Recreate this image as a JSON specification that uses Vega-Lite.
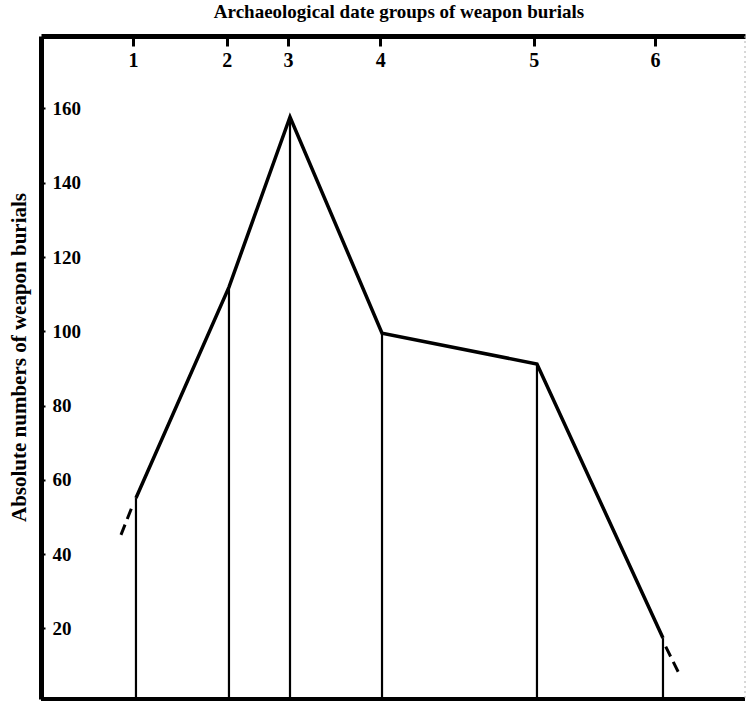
{
  "$schema": "https://vega.github.io/schema/vega-lite/v6.json",
  "width": 704,
  "height": 663,
  "autosize": {"type": "none"},
  "padding": {"left": 41, "top": 36, "right": 2, "bottom": 4},
  "background": "white",
  "config": {"view": {"stroke": null}, "font": "Liberation Serif"},
  "title": {
    "text": "Archaeological date groups of weapon burials",
    "font": "Liberation Serif",
    "fontSize": 19,
    "fontWeight": "bold",
    "color": "black",
    "anchor": "middle",
    "baseline": "middle",
    "dx": 6,
    "offset": 4
  },
  "datasets": {
    "points": [
      {"group": 1, "date": 13.49, "count": 55.1},
      {"group": 2, "date": 26.70, "count": 111.9},
      {"group": 3, "date": 35.37, "count": 157.7},
      {"group": 4, "date": 48.44, "count": 99.5},
      {"group": 5, "date": 70.45, "count": 91.2},
      {"group": 6, "date": 88.35, "count": 17.4}
    ],
    "dashes": [
      {"seg": "before", "date": 12.93, "count": 52.7},
      {"seg": "before", "date": 11.36, "count": 45.2},
      {"seg": "after", "date": 88.74, "count": 15.1},
      {"seg": "after", "date": 90.67, "count": 7.7}
    ],
    "frame": [{"edge": "bottom"}]
  },
  "layer": [
    {
      "data": {"name": "points"},
      "mark": {"type": "rule", "color": "black", "strokeWidth": 2.2},
      "encoding": {
        "x": {
          "field": "date",
          "type": "quantitative",
          "scale": {"domain": [0, 100], "nice": false, "zero": false},
          "axis": {
            "orient": "top",
            "title": null,
            "values": [13.07, 26.4, 35.1, 48.2, 70.0, 87.2],
            "labelExpr": "datum.value < 20 ? '1' : datum.value < 30 ? '2' : datum.value < 40 ? '3' : datum.value < 60 ? '4' : datum.value < 80 ? '5' : '6'",
            "grid": false,
            "domainColor": "black",
            "domainWidth": 5,
            "tickColor": "black",
            "tickWidth": 3,
            "tickSize": -10,
            "labelPadding": -14,
            "labelBaseline": "middle",
            "labelAlign": "center",
            "labelFont": "Liberation Serif",
            "labelFontWeight": "bold",
            "labelFontSize": 20,
            "labelColor": "black",
            "labelFlush": false
          }
        },
        "y": {
          "field": "count",
          "type": "quantitative",
          "scale": {"domain": [1, 179.5], "nice": false, "zero": false},
          "axis": {
            "orient": "left",
            "title": "Absolute numbers of weapon burials",
            "values": [20, 40, 60, 80, 100, 120, 140, 160],
            "grid": false,
            "domainColor": "black",
            "domainWidth": 5,
            "tickColor": "black",
            "tickWidth": 2,
            "tickSize": -4,
            "labelPadding": -7,
            "labelAlign": "left",
            "labelBaseline": "middle",
            "labelFont": "Liberation Serif",
            "labelFontWeight": "bold",
            "labelFontSize": 19,
            "labelColor": "black",
            "titleFont": "Liberation Serif",
            "titleFontWeight": "bold",
            "titleFontSize": 21,
            "titleColor": "black",
            "titleAngle": 270,
            "titleAlign": "center",
            "titleBaseline": "middle",
            "titleX": -22,
            "titleY": 321
          }
        },
        "y2": {"datum": 1}
      }
    },
    {
      "data": {"name": "points"},
      "mark": {"type": "line", "color": "black", "strokeWidth": 3.5, "strokeJoin": "miter"},
      "encoding": {
        "x": {"field": "date", "type": "quantitative"},
        "y": {"field": "count", "type": "quantitative"}
      }
    },
    {
      "data": {"name": "dashes"},
      "mark": {"type": "line", "color": "black", "strokeWidth": 3, "strokeDash": [11, 6]},
      "encoding": {
        "x": {"field": "date", "type": "quantitative"},
        "y": {"field": "count", "type": "quantitative"},
        "detail": {"field": "seg"}
      }
    },
    {
      "data": {"name": "frame"},
      "mark": {"type": "rule", "color": "black", "strokeWidth": 4},
      "encoding": {"y": {"datum": 1}}
    },
    {
      "data": {"name": "frame"},
      "mark": {"type": "rule", "color": "#b0b0b0", "strokeWidth": 1, "strokeDash": [2, 3]},
      "encoding": {"x": {"datum": 100}}
    }
  ]
}
